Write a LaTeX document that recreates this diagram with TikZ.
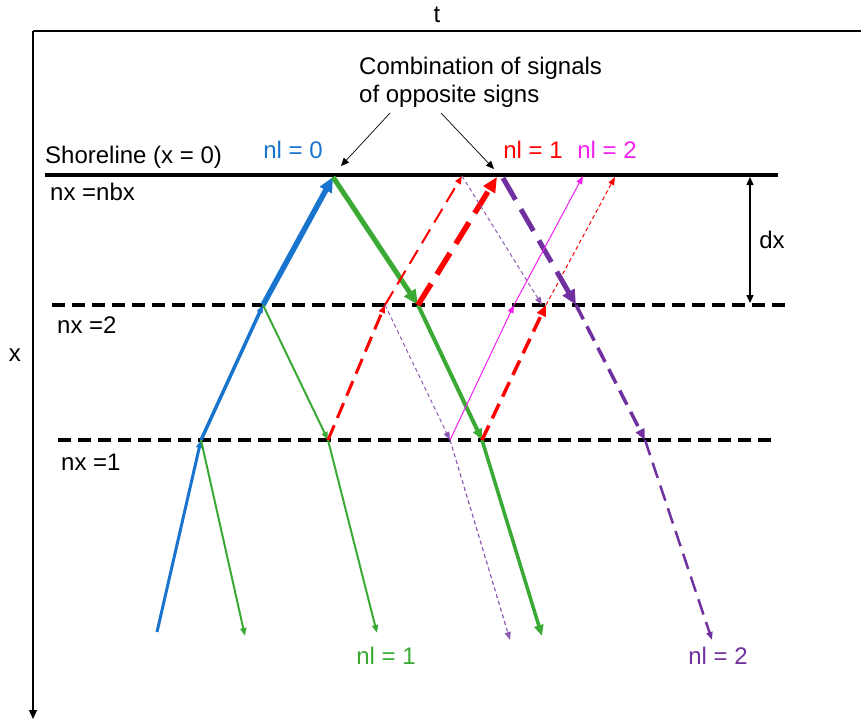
\documentclass[tikz,border=0pt]{standalone}
\usepackage{fontspec}
\setmainfont{Liberation Sans}
\usetikzlibrary{arrows.meta}
\definecolor{sigblue}{RGB}{24,116,205}
\definecolor{siggreen}{RGB}{58,170,53}
\definecolor{sigred}{RGB}{255,0,0}
\definecolor{sigpurple}{RGB}{112,48,160}
\definecolor{sigmag}{RGB}{240,32,240}
\begin{document}
\begin{tikzpicture}[x=1pt,y=-1pt,
  every node/.style={font=\fontsize{24}{28}\selectfont, inner sep=0pt},
  axis/.style={line width=1.2pt, draw=black},
  level/.style={line width=4pt, dash pattern=on 13pt off 7pt},
  ann/.style={line width=0.7pt, -{Triangle[length=8pt,width=7pt]}},
  tipS/.style={-{Triangle[length=8pt,width=6pt]}},
  tipM/.style={-{Triangle[length=11pt,width=9pt]}},
  tipL/.style={-{Triangle[length=15pt,width=13pt]}},
  dashT/.style={dash pattern=on 4pt off 3pt},
  dashM/.style={dash pattern=on 16pt off 8pt},
  dashL/.style={dash pattern=on 25pt off 11pt},
]
\useasboundingbox (0,0) rectangle (861,722);

% axes
\coordinate (O) at (33,31);
\coordinate (tend) at (861,31);
\coordinate (xend) at (33,719);
\draw[axis] (O) -- (tend);
\draw[axis, -{Triangle[length=9pt,width=8pt]}] (O) -- (xend);
\node (tlab) at (437,15) {t};
\node (xlab) at (15,355) {x};

% shoreline and levels
\coordinate (sh0) at (45,175); \coordinate (sh1) at (778,175);
\coordinate (l2a) at (52,305); \coordinate (l2b) at (785,305);
\coordinate (l1a) at (58,440); \coordinate (l1b) at (778,440);
\draw[line width=4pt] (sh0) -- (sh1);
\draw[level] (l2a) -- (l2b);
\draw[level] (l1a) -- (l1b);

\node[anchor=west] (shore) at (45,157) {Shoreline (x = 0)};
\node[anchor=west] (nbx) at (50,192) {nx =nbx};
\node[anchor=west] (nx2) at (57,325) {nx =2};
\node[anchor=west] (nx1) at (61,462) {nx =1};

% dx
\coordinate (dxa) at (750,177); \coordinate (dxb) at (750,303);
\draw[line width=1.3pt, {Triangle[length=8pt,width=7pt]}-{Triangle[length=8pt,width=7pt]}] (dxa) -- (dxb);
\node (dx) at (772,240) {dx};

% annotation
\node[anchor=north west, align=left] (comb) at (359,57) {Combination of signals\\of opposite signs};
\coordinate (ca1) at (390,113); \coordinate (ca2) at (341,166);
\coordinate (cb1) at (441,113); \coordinate (cb2) at (494,169);
\draw[ann] (ca1) -- (ca2);
\draw[ann] (cb1) -- (cb2);

% nl labels
\node[text=sigblue] (nl0) at (293,150) {nl = 0};
\node[text=sigred] (nl1r) at (533,150) {nl = 1};
\node[text=sigmag] (nl2m) at (607,150) {nl = 2};
\node[text=siggreen] (nl1g) at (386,656) {nl = 1};
\node[text=sigpurple] (nl2p) at (718,656) {nl = 2};

% signal points
\coordinate (B0) at (157,632);
\coordinate (P1a) at (201,440);
\coordinate (P2a) at (263,305);
\coordinate (S1) at (333,177);
\coordinate (P1b) at (328,440);
\coordinate (P2b) at (385,305);
\coordinate (S2) at (462,176);
\coordinate (P2c) at (418,305);
\coordinate (S3) at (497,177);
\coordinate (P1c) at (482,440);
\coordinate (P2d) at (546,305);
\coordinate (S5) at (615,177);
\coordinate (S3p) at (503,178);
\coordinate (P2e) at (576,305);
\coordinate (P1e) at (645,440);
\coordinate (Ep) at (712,640);
\coordinate (P2f) at (542,305);
\coordinate (P1d) at (450,440);
\coordinate (Ept) at (510,640);
\coordinate (P2g) at (514,305);
\coordinate (S4) at (583,176);
\coordinate (Eg1) at (245,636);
\coordinate (Eg2) at (377,633);
\coordinate (Eg3) at (542,636);

% blue
\draw[sigblue, line width=3pt, tipS] (B0) -- (P1a);
\draw[sigblue, line width=3.5pt, tipS] (P1a) -- (P2a);
\draw[sigblue, line width=5.5pt, tipL] (P2a) -- (S1);

% green
\draw[siggreen, line width=2pt, tipS] (P1a) -- (Eg1);
\draw[siggreen, line width=2pt, tipS] (P2a) -- (P1b);
\draw[siggreen, line width=2pt, tipS] (P1b) -- (Eg2);
\draw[siggreen, line width=5pt, tipL] (S1) -- (P2c);
\draw[siggreen, line width=4pt, tipM] (P2c) -- (P1c);
\draw[siggreen, line width=3.5pt, tipM] (P1c) -- (Eg3);

% red
\draw[sigred, line width=3pt, dashM, tipS] (P1b) -- (P2b);
\draw[sigred, line width=2pt, dashM, tipS] (P2b) -- (S2);
\draw[sigred, line width=5.5pt, dashL, tipL] (P2c) -- (S3);
\draw[sigred, line width=3.5pt, dashM, tipM] (P1c) -- (P2d);
\draw[sigred, line width=1pt, dashT, tipS] (P2d) -- (S5);

% purple
\draw[sigpurple, line width=5pt, dashL, tipL] (S3p) -- (P2e);
\draw[sigpurple, line width=3.5pt, dashM, tipM] (P2e) -- (P1e);
\draw[sigpurple, line width=2.5pt, dashM, tipS] (P1e) -- (Ep);
\draw[sigpurple!80, line width=1pt, dashT, tipS] (S2) -- (P2f);
\draw[sigpurple!80, line width=1pt, dashT, tipS] (P2b) -- (P1d);
\draw[sigpurple!80, line width=1.2pt, dashT, tipS] (P1d) -- (Ept);

% magenta
\draw[sigmag, line width=1pt, tipS] (P1d) -- (P2g);
\draw[sigmag, line width=1pt, tipS] (P2g) -- (S4);
\end{tikzpicture}
\end{document}
